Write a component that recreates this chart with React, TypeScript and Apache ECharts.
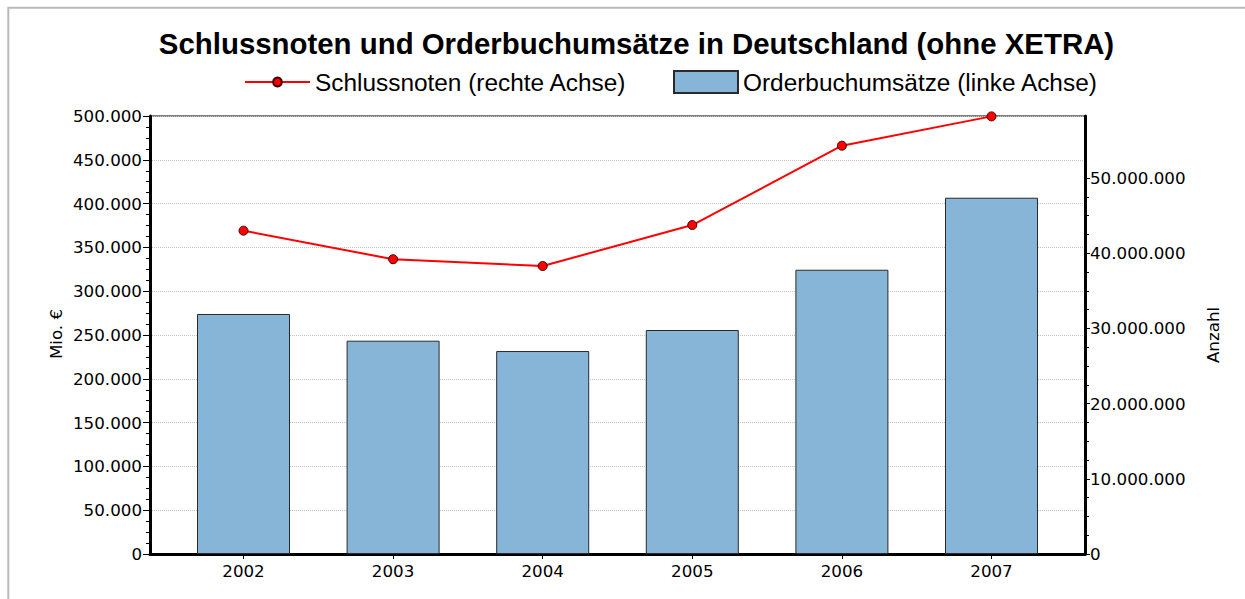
import React, { useEffect, useRef } from "react";
import * as echarts from "echarts";

const years = ["2002", "2003", "2004", "2005", "2006", "2007"];
const orderbuchumsaetze = [274000, 243500, 231700, 255700, 324500, 406700];
const schlussnoten = [43000000, 39200000, 38300000, 43750000, 54300000, 58200000];
const rightMajorTicks = [0, 10000000, 20000000, 30000000, 40000000, 50000000];
const rightMinorTicks = [
  2500000, 5000000, 7500000, 12500000, 15000000, 17500000, 22500000, 25000000, 27500000,
  32500000, 35000000, 37500000, 42500000, 45000000, 47500000,
];
const titleText = "Schlussnoten und Orderbuchumsätze in Deutschland (ohne XETRA)";
const lineName = "Schlussnoten (rechte Achse)";
const barName = "Orderbuchumsätze (linke Achse)";

const fmt = (v: number) => Math.round(v).toString().replace(/\B(?=(\d{3})+(?!\d))/g, ".");

const LABEL_FONT = "DejaVu Sans";
const LABEL_SIZE = 16.7;

export default function App() {
  const ref = useRef<HTMLDivElement>(null);
  useEffect(() => {
    if (!ref.current) return;
    const chart = echarts.init(ref.current, null, { renderer: "svg" });
    const xIdx = years.map((_, i) => i);
    chart.setOption({
      animation: false,
      backgroundColor: "#ffffff",
      title: {
        text: titleText,
        left: 636.5,
        top: 29,
        textAlign: "center",
        padding: 0,
        textStyle: { fontFamily: "Liberation Sans", fontWeight: "bold", fontSize: 29.4, color: "#000" },
      },
      legend: [
        {
          data: [lineName],
          left: 244,
          top: 70,
          padding: 0,
          itemWidth: 65,
          itemHeight: 11,
          itemGap: 0,
          selectedMode: false,
          textStyle: { fontFamily: "Liberation Sans", fontSize: 24.4, color: "#000" },
        },
        {
          data: [{ name: barName, icon: "rect" }],
          left: 673,
          top: 70,
          padding: 0,
          itemWidth: 64,
          itemHeight: 22,
          itemGap: 0,
          selectedMode: false,
          textStyle: { fontFamily: "Liberation Sans", fontSize: 24.4, color: "#000" },
        },
      ],
      grid: {
        left: 150,
        right: 160,
        top: 116,
        bottom: 45,
        show: true,
        borderColor: "#000",
        borderWidth: 1,
        backgroundColor: "transparent",
      },
      xAxis: {
        type: "value",
        min: -0.625,
        max: 5.625,
        axisLine: { show: true, onZero: false, lineStyle: { color: "#000", width: 3 } },
        axisTick: { show: true, customValues: xIdx, length: 5, lineStyle: { color: "#000", width: 1 } },
        axisLabel: {
          customValues: xIdx,
          formatter: (v: number) => years[Math.round(v)] ?? "",
          margin: 8,
          fontFamily: LABEL_FONT,
          fontSize: LABEL_SIZE,
          color: "#000",
        },
        splitLine: { show: false },
      },
      yAxis: [
        {
          type: "value",
          position: "left",
          min: 0,
          max: 500000,
          interval: 50000,
          axisLine: { show: true, onZero: false, lineStyle: { color: "#000", width: 3 } },
          axisTick: { show: true, length: 7, lineStyle: { color: "#000", width: 1 } },
          minorTick: { show: true, splitNumber: 4, length: 4, lineStyle: { color: "#000", width: 1 } },
          axisLabel: {
            formatter: (v: number) => fmt(v),
            margin: 8,
            fontFamily: LABEL_FONT,
            fontSize: LABEL_SIZE,
            color: "#000",
          },
          splitLine: { show: true, lineStyle: { color: "#c4c4c4", type: "dotted", width: 1 } },
        },
        {
          type: "value",
          position: "right",
          min: 0,
          max: 58250000,
          axisLine: { show: true, onZero: false, lineStyle: { color: "#000", width: 3 } },
          axisTick: { show: true, customValues: rightMajorTicks, length: 5, lineStyle: { color: "#000", width: 1 } },
          axisLabel: {
            customValues: rightMajorTicks,
            formatter: (v: number) => fmt(v),
            margin: 5,
            fontFamily: LABEL_FONT,
            fontSize: LABEL_SIZE,
            color: "#000",
          },
          splitLine: { show: false },
        },
        {
          type: "value",
          position: "right",
          min: 0,
          max: 58250000,
          axisLine: { show: false, onZero: false },
          axisTick: { show: true, customValues: rightMinorTicks, length: 4, lineStyle: { color: "#000", width: 1 } },
          axisLabel: { show: false },
          splitLine: { show: false },
        },
      ],
      graphic: [
        {
          type: "rect",
          silent: true,
          z: -10,
          shape: { x: 8.3, y: 7.7, width: 1400, height: 800 },
          style: { fill: "none", stroke: "#b9b9b9", lineWidth: 2 },
        },
        {
          type: "text",
          x: 56,
          y: 334,
          rotation: Math.PI / 2,
          style: {
            text: "Mio. €",
            fontFamily: LABEL_FONT,
            fontSize: LABEL_SIZE,
            fill: "#000",
            textAlign: "center",
            textVerticalAlign: "middle",
          },
        },
        {
          type: "text",
          x: 1213,
          y: 335,
          rotation: Math.PI / 2,
          style: {
            text: "Anzahl",
            fontFamily: LABEL_FONT,
            fontSize: LABEL_SIZE,
            fill: "#000",
            textAlign: "center",
            textVerticalAlign: "middle",
          },
        },
      ],
      series: [
        {
          name: barName,
          type: "bar",
          xAxisIndex: 0,
          yAxisIndex: 0,
          barWidth: 93,
          data: orderbuchumsaetze.map((v, i) => [i, v]),
          itemStyle: { color: "#87b5d8", borderColor: "#2a2a2a", borderWidth: 1 },
          z: 2,
        },
        {
          name: lineName,
          type: "line",
          xAxisIndex: 0,
          yAxisIndex: 1,
          data: schlussnoten.map((v, i) => [i, v]),
          symbol: "circle",
          symbolSize: 9,
          lineStyle: { color: "#ff0000", width: 2 },
          itemStyle: { color: "#ff0000", borderColor: "#400000", borderWidth: 1 },
          z: 3,
        },
      ],
    });
    return () => chart.dispose();
  }, []);
  return (
    <div
      ref={ref}
      style={{ position: "absolute", left: 0, top: 0, width: 1245, height: 599 }}
    />
  );
}
